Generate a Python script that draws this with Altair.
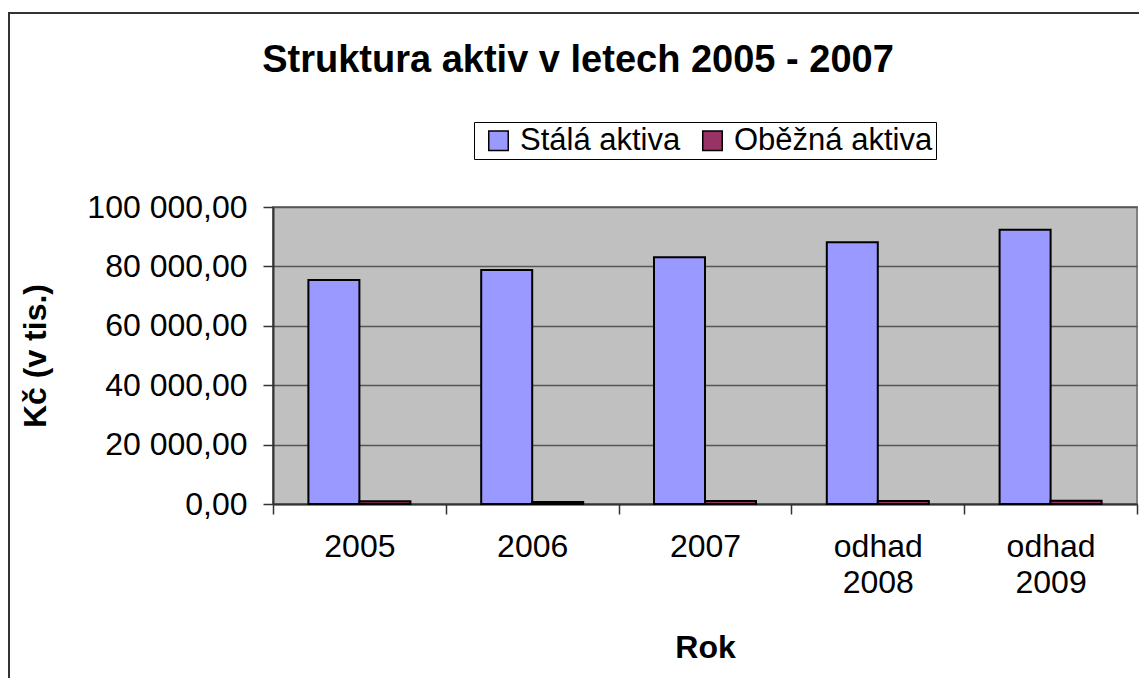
import altair as alt
import pandas as pd

years = ["2005", "2006", "2007", "odhad 2008", "odhad 2009"]
series = ["Stálá aktiva", "Oběžná aktiva"]
stala = [75400, 78800, 83100, 88100, 92300]
obezna = [900, 700, 1000, 1000, 1100]
colors = ["#9999FF", "#993366"]
y_ticks = [0, 20000, 40000, 60000, 80000, 100000]

rows = []
for i, yr in enumerate(years):
    rows.append({"Rok": yr, "Serie": series[0], "Hodnota": stala[i]})
    rows.append({"Rok": yr, "Serie": series[1], "Hodnota": obezna[i]})
df = pd.DataFrame(rows)

FONT = "Liberation Sans"
W, H = 864, 297

bars = alt.Chart(df).mark_bar(stroke="black", strokeWidth=2).encode(
    x=alt.X("Rok:N", sort=years,
            scale=alt.Scale(paddingInner=0, paddingOuter=0),
            axis=alt.Axis(title="Rok", labelAngle=0, labelExpr="split(datum.label, ' ')",
                          tickBand="extent", tickSize=10, tickColor="#333", tickWidth=1.5,
                          domainColor="#333", domainWidth=2, grid=False,
                          labelFont=FONT, labelFontSize=32, labelColor="black",
                          labelPadding=17, labelLineHeight=36, labelBaseline="top",
                          titleFont=FONT, titleFontSize=32, titleFontWeight="bold",
                          titleColor="black", titleY=153, titleBaseline="alphabetic")),
    xOffset=alt.XOffset("Serie:N", sort=series,
                        scale=alt.Scale(paddingInner=0, paddingOuter=0.694)),
    y=alt.Y("Hodnota:Q", scale=alt.Scale(domain=[0, 100000], nice=False),
            axis=alt.Axis(title="Kč (v tis.)", values=y_ticks,
                          labelExpr="replace(replace(format(datum.value, ',.2f'), ',', ' '), '.', ',')",
                          tickSize=10, tickColor="#333", tickWidth=1.5,
                          domainColor="#333", domainWidth=2,
                          gridColor="#555555", gridWidth=1.5,
                          labelFont=FONT, labelFontSize=32, labelColor="black", labelPadding=16,
                          titleFont=FONT, titleFontSize=32, titleFontWeight="bold",
                          titleColor="black", titleX=-238, titleY=H / 2,
                          titleAngle=270, titleAlign="center", titleBaseline="middle")),
    color=alt.Color("Serie:N", sort=series,
                    scale=alt.Scale(domain=series, range=colors),
                    legend=alt.Legend(orient="none", legendX=201, legendY=-85,
                                      direction="horizontal", title=None,
                                      strokeColor="black", fillColor="white",
                                      padding=3, symbolType="square", symbolSize=380,
                                      symbolStrokeColor="black", symbolStrokeWidth=1.5,
                                      symbolOffset=6,
                                      labelFont=FONT, labelFontSize=31, labelColor="black",
                                      labelLimit=0, labelOffset=6, columnPadding=10)),
)

border = alt.Chart(pd.DataFrame({"a": [0]})).mark_rect(
    fill=None, stroke="#333", strokeWidth=2
).encode(
    x=alt.value(-264), y=alt.value(-194), x2=alt.value(2000), y2=alt.value(2000)
)

chart = alt.layer(border, bars).properties(
    width=W, height=H,
    padding={"left": 265, "top": 199, "right": 2, "bottom": 174},
    autosize=alt.AutoSizeParams(type="none"),
    title=alt.TitleParams("Struktura aktiv v letech 2005 - 2007", font=FONT, fontSize=38,
                          fontWeight="bold", color="black", anchor="middle",
                          frame="group", dx=-127, offset=-98, baseline="alphabetic"),
).configure_view(
    fill="#C0C0C0", stroke="#808080", strokeWidth=2
)

chart.save("out.html", embed_options={"renderer": "svg", "actions": False})
